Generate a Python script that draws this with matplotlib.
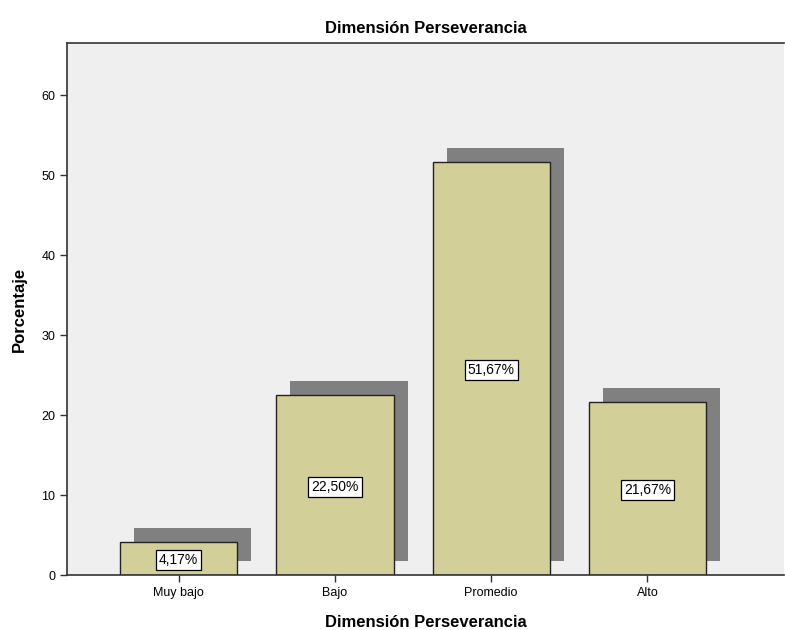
import matplotlib
matplotlib.use("Agg")
import matplotlib.pyplot as plt
import numpy as np

plt.rcParams['font.family'] = ['Liberation Sans', 'DejaVu Sans']

categorias = ["Muy bajo", "Bajo", "Promedio", "Alto"]
porcentajes = [4.17, 22.50, 51.67, 21.67]
etiquetas = ["4,17%", "22,50%", "51,67%", "21,67%"]

fig = plt.figure(figsize=(7.85, 6.3), dpi=100)
ax = fig.add_axes([0.0854, 0.0873, 0.9134, 0.8444])
ax.set_facecolor("#efefef")

x = np.arange(len(categorias))
# sombra
ax.bar(x + 0.09, porcentajes, width=0.75, bottom=1.7, color="#808080", zorder=1)
ax.bar(x, porcentajes, width=0.75, color="#d3cf98", edgecolor="#222222", linewidth=1, zorder=2)

for xi, v, t in zip(x, porcentajes, etiquetas):
    ax.text(xi, v / 2 - 0.2, t, ha="center", va="center", fontsize=10, zorder=3,
            bbox=dict(boxstyle="square,pad=0.22", facecolor="white", edgecolor="black", linewidth=0.9))

ax.set_xlim(-0.715, 3.875)
ax.set_ylim(0, 66.5)
ax.set_xticks(x)
ax.set_xticklabels(categorias, fontsize=9)
ax.set_yticks([0, 10, 20, 30, 40, 50, 60])
ax.tick_params(axis="both", labelsize=9, length=5, width=1, color="#333333")
ax.spines["right"].set_visible(False)
for s in ["left", "top", "bottom"]:
    ax.spines[s].set_color("#333333")
    ax.spines[s].set_linewidth(1.2)

ax.set_title("Dimensión Perseverancia", fontsize=12, fontweight="bold", pad=7)
ax.set_xlabel("Dimensión Perseverancia", fontsize=12, fontweight="bold", labelpad=12)
ax.set_ylabel("Porcentaje", fontsize=12, fontweight="bold", labelpad=10)

fig.savefig("out.png", dpi=100)
